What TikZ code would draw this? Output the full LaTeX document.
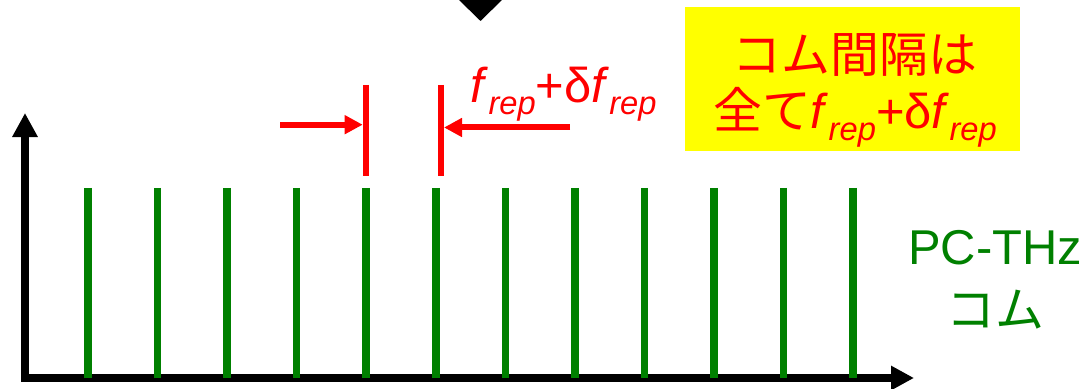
\documentclass[tikz,border=0pt]{standalone}
\usepackage{fontspec}
\setmainfont{Liberation Sans}
\newfontfamily\cjk{Noto Sans CJK JP}
\usetikzlibrary{arrows.meta, positioning}
\definecolor{combgreen}{HTML}{008000}
\definecolor{markred}{HTML}{FF0000}
\definecolor{notebg}{HTML}{FFFF00}
\newcommand{\Frep}{\textit{f}\raisebox{-3.4pt}{\fontsize{9.3}{10}\selectfont\textit{rep}}}
\newcommand{\Spacing}{\Frep+δ\Frep}

\begin{document}
\begin{tikzpicture}[
      x=0.01cm, y=-0.01cm,
      font=\fontsize{13.9}{15.9}\selectfont,
      axis/.style={line width=0.08cm, line join=miter,
                   {Triangle[length=0.24cm,width=0.24cm]}-{Triangle[length=0.23cm,width=0.23cm]}},
      tooth/.style={line width=0.075cm, combgreen},
      marker/.style={line width=0.06cm, markred},
      arr/.style={-{Triangle[length=0.18cm,width=0.18cm]}, line width=0.06cm, markred},
      notebox/.style={rectangle, fill=notebg, minimum width=3.35cm,
                      minimum height=1.43cm, inner sep=0pt},
      txt/.style={inner sep=0pt, align=center}
    ]
      \useasboundingbox (0,0) rectangle (1088,389);
      % axes
      \coordinate (origin) at (25,378);
      \coordinate (ytip) at (25,113);
      \coordinate (xtip) at (914,378);
      \draw[axis] (ytip) -- (origin) -- (xtip);
      % comb lines
      \foreach \i in {0,...,11}
        \draw[tooth] (88+69.55*\i,188) -- (88+69.55*\i,378);
      % spacing markers
      \coordinate (lineA) at (365.7,124.7);
      \coordinate (lineB) at (441,127.5);
      \draw[marker] (365.7,85) -- (365.7,176);
      \draw[marker] (441,85) -- (441,176);
      \coordinate (fromA) at (280,124.7);
      \coordinate (fromB) at (570,127.5);
      \draw[arr] (fromA) -- ([xshift=-0.03cm]lineA);
      \draw[arr] (fromB) -- ([xshift=0.03cm]lineB);
      \node[txt, markred, anchor=base west] (gapLabel) at (470,103) {\Spacing};
      % note
      \node[notebox] (note) at (852.5,79) {};
      \node[txt, markred] (noteText) at (855,90) {{\cjk コム間隔は}\\{\cjk 全て}\Spacing};
      \node[txt, combgreen, font=\fontsize{13.9}{17.9}\selectfont] (combLabel) at (995,280)
        {PC-THz\\{\cjk コム}};
      % pointer from above
      \fill (459,0) -- (502,0) -- (480.5,21) -- cycle;
    \end{tikzpicture}
\end{document}
